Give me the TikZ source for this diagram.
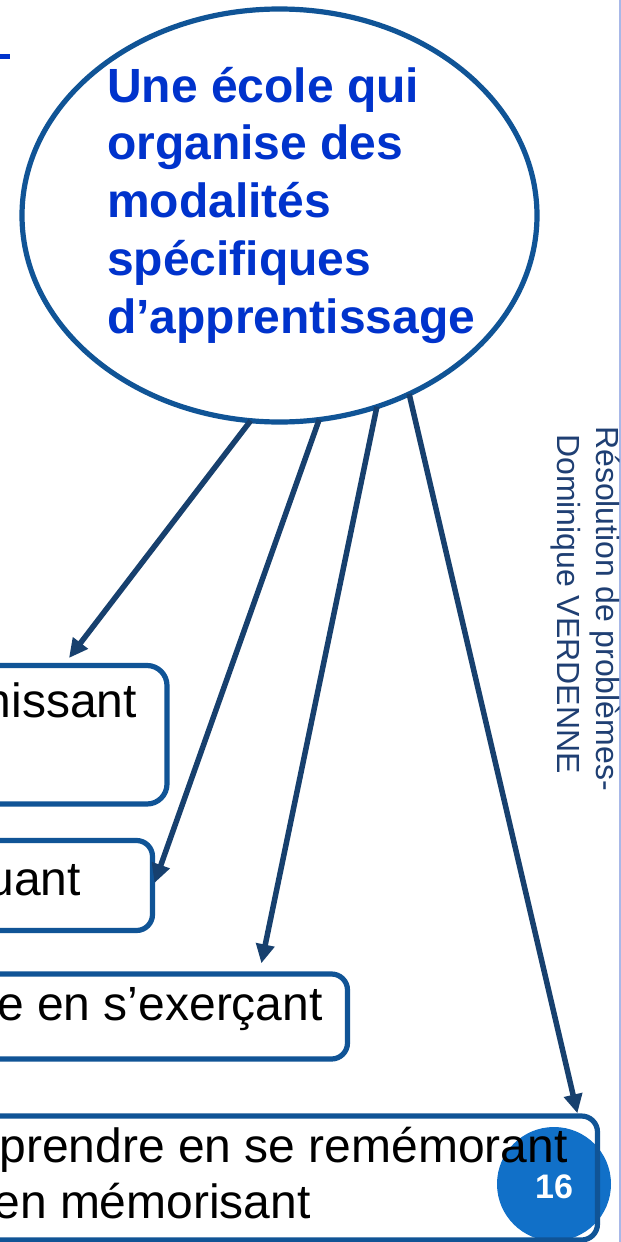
\documentclass[tikz,border=0pt]{standalone}
\usepackage{fontspec}
\setmainfont{Liberation Sans}
\usetikzlibrary{arrows.meta,shapes.geometric}
\definecolor{ellblue}{HTML}{105496}
\definecolor{arrblue}{HTML}{17406E}
\definecolor{txtblue}{HTML}{0033CC}
\definecolor{pgblue}{HTML}{1170C8}
\definecolor{sidetxt}{HTML}{1F3F73}
\definecolor{edgeline}{HTML}{A8B8E8}
\begin{document}
\begin{tikzpicture}[x=1pt,y=-1pt,
  boxnode/.style={draw=ellblue, line width=5.2pt, rounded corners=16pt, inner sep=0pt, outer sep=0pt},
  link/.style={draw=arrblue, line width=5.5pt, -{Triangle[length=19pt,width=18pt]}},
  bodytext/.style={inner sep=0pt, font=\fontsize{48}{56}\selectfont, text=black},
  sidetext/.style={inner sep=0pt, rotate=-90, anchor=base west, text=sidetxt, font=\fontsize{32}{38}\selectfont}]
\useasboundingbox (0,0) rectangle (621,1242);
\fill[white] (0,0) rectangle (621,1242);
\clip (0,0) rectangle (621,1242);
% top-left dash
\fill[txtblue] (0,54) rectangle (10,59);
% right edge line
\draw[edgeline, line width=1.2pt] (620,0) -- (620,1242);
% ellipse
\node[ellipse, draw=ellblue, line width=5.2pt, minimum width=515pt, minimum height=413pt, inner sep=0pt, outer sep=0pt] (ell) at (279.5,215.5) {};
\node[anchor=base west, inner sep=0pt, text=txtblue, font=\bfseries\fontsize{48}{57.75}\selectfont] (title) at (107,102)
  {\begin{tabular}[t]{@{}l@{}}Une école qui\\organise des\\modalités\\spécifiques\\d’apprentissage\end{tabular}};
% boxes
\node[boxnode, minimum width=207pt, minimum height=138.5pt, rounded corners=20pt] (b1) at (63.5,734.75) {};
\node[boxnode, minimum width=192.5pt, minimum height=90pt] (b2) at (56.25,885.5) {};
\node[boxnode, minimum width=387.5pt, minimum height=85pt] (b3) at (153.75,1016.5) {};
\fill[pgblue] (554,1184) circle (57);
\node[anchor=base, inner sep=0pt, text=white, font=\bfseries\fontsize{34}{40}\selectfont] (pg) at (554,1198) {16};
\node[boxnode, minimum width=637.5pt, minimum height=124pt] (b4) at (278.75,1178) {};
% box texts
\node[bodytext, anchor=base east] (t1) at (137,717) {nissant};
\node[bodytext, anchor=base east] (t2) at (81,895) {uant};
\node[bodytext, anchor=base east] (t3) at (323,1020) {e en s’exerçant};
\node[bodytext, anchor=base east] (t4a) at (568,1162) {prendre en se remémorant};
\node[bodytext, anchor=base east] (t4b) at (311,1218) {en mémorisant};
% arrow tips
\coordinate (e1) at (69,658);
\coordinate (e2) at (154.5,883);
\coordinate (e3) at (261.4,963.3);
\coordinate (e4) at (577.4,1113.3);
\draw[link] (ell.262.1) -- (e1);
\draw[link] (ell.281.0) -- (e2);
\draw[link] (ell.297.6) -- (e3);
\draw[link] (ell.306.3) -- (e4);
% side texts
\node[sidetext] (s1) at (596,426) {Résolution de problèmes-};
\node[sidetext] (s2) at (557,434) {Dominique VERDENNE};
\end{tikzpicture}
\end{document}
